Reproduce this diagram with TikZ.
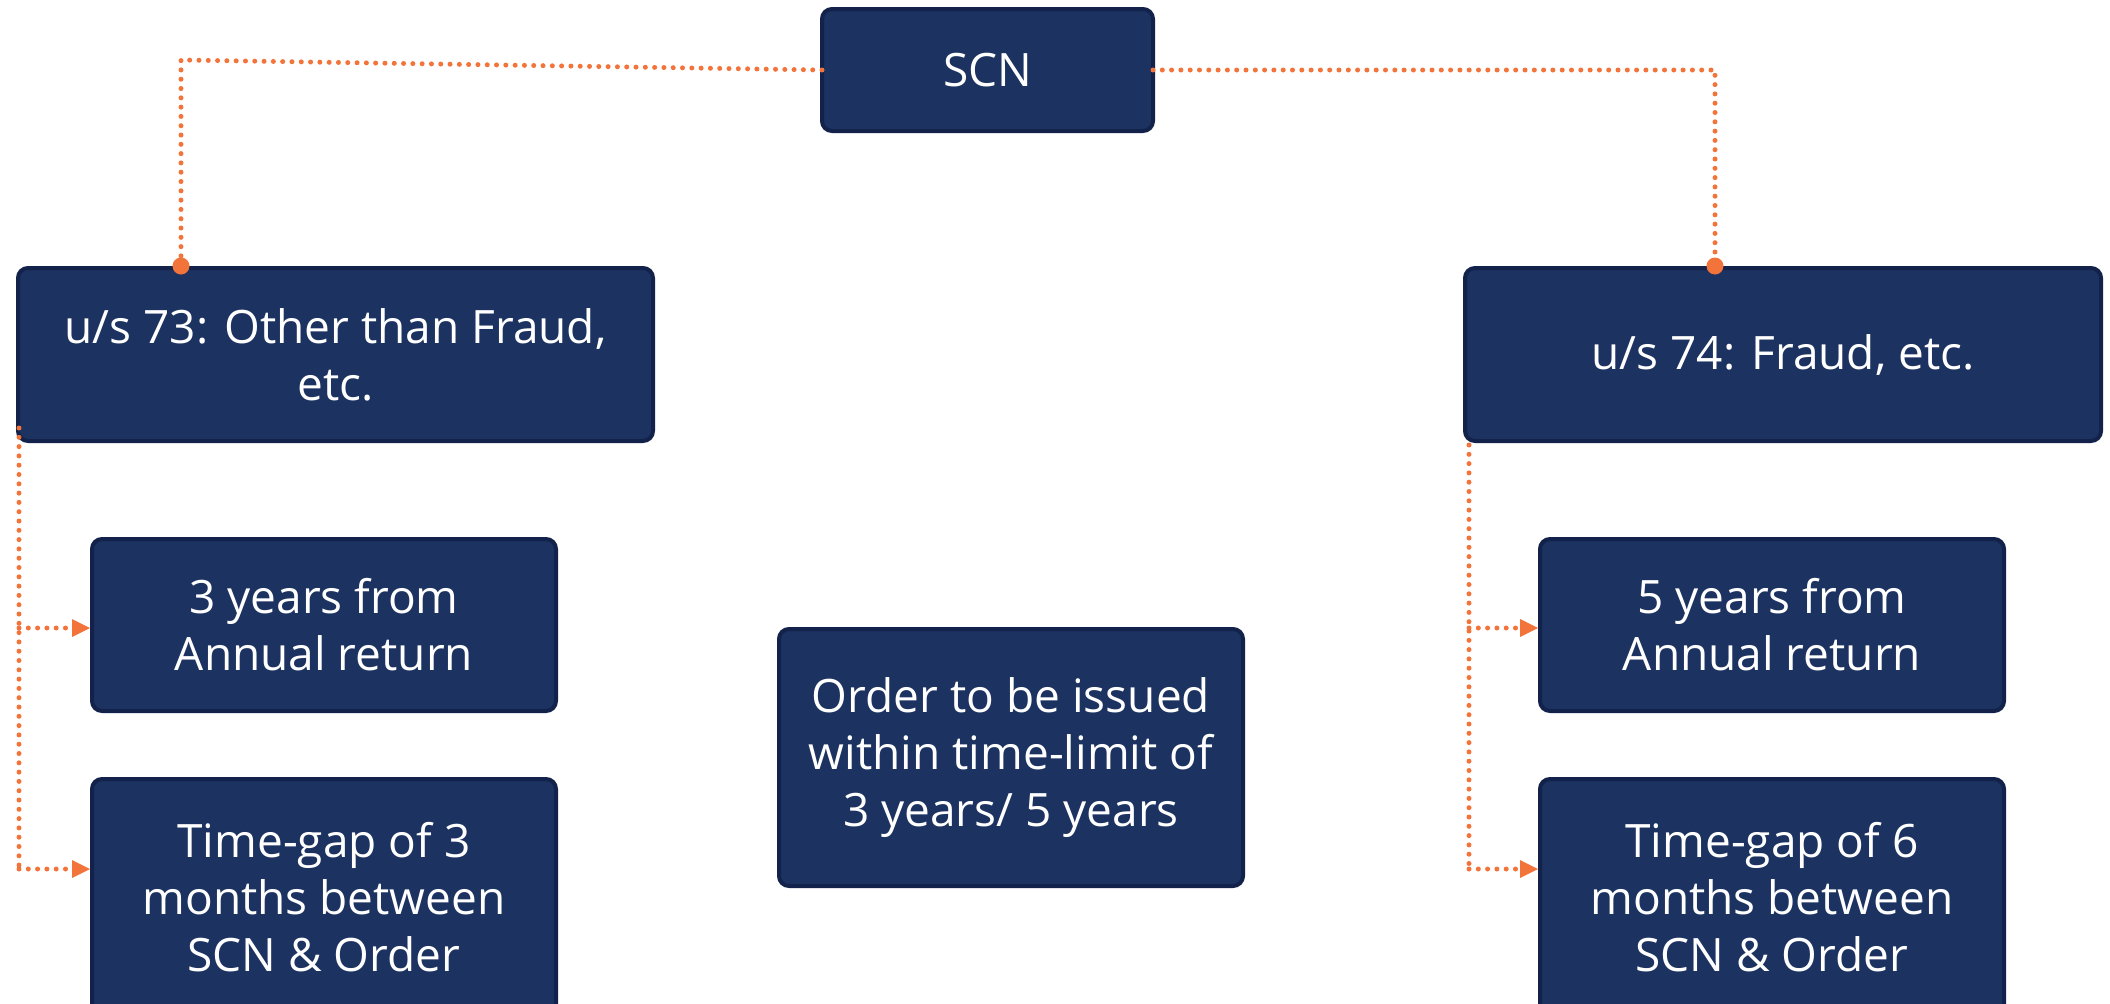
\documentclass[tikz,border=0pt]{standalone}
\usepackage{fontspec}
\setmainfont{Open Sans}
\usetikzlibrary{arrows.meta,calc}
\definecolor{boxfill}{HTML}{1C3260}
\definecolor{boxline}{HTML}{12224A}
\definecolor{accent}{HTML}{F3743A}
\begin{document}
\begin{tikzpicture}[x=1pt,y=-1pt,
  box/.style={rectangle, rounded corners=10pt, fill=boxfill, draw=boxline,
    line width=4pt, inner sep=0pt, outer sep=0pt, text=white, align=center,
    font=\fontsize{46}{57}\selectfont},
  dotline/.style={draw=accent, line width=5pt, line cap=round,
    dash pattern=on 0pt off 9.3pt},
  arrowtip/.style={-{Triangle[length=18pt,width=18pt,line width=0pt]}}
]
\useasboundingbox (0,0) rectangle (2110,1004);
\clip (0,0) rectangle (2110,1004);

% boxes
\node[box, minimum width=331pt, minimum height=122pt] (scn) at (987.5,70) {SCN};
\node[box, minimum width=635pt, minimum height=173pt] (l73) at (335.5,354.5)
  {u/s 73: Other than Fraud,\\etc.};
\node[box, minimum width=636pt, minimum height=173pt] (r74) at (1783,354.5)
  {u/s 74: Fraud, etc.};
\node[box, minimum width=464pt, minimum height=172pt] (la) at (324,625)
  {3 years from\\Annual return};
\node[box, minimum width=464pt, minimum height=236pt] (lb) at (324,897)
  {Time-gap of 3\\months between\\SCN \& Order};
\node[box, minimum width=464pt, minimum height=172pt] (ra) at (1772,625)
  {5 years from\\Annual return};
\node[box, minimum width=464pt, minimum height=236pt] (rb) at (1772,897)
  {Time-gap of 6\\months between\\SCN \& Order};
\node[box, minimum width=464pt, minimum height=257pt] (mid) at (1011,757.5)
  {Order to be issued\\within time-limit of\\3 years/ 5 years};

% top connectors
\coordinate (lcorner) at (181,60);
\coordinate (rcorner) at ($(scn.east)+(562,0)$);
\draw[dotline] (scn.west) -- (lcorner) -- (lcorner |- l73.north);
\fill[accent] ($(lcorner |- l73.north)+(0,-2)$) circle (8.5pt);
\draw[dotline] (scn.east) -- (rcorner) -- (rcorner |- r74.north);
\fill[accent] ($(rcorner |- r74.north)+(0,-2)$) circle (8.5pt);

% left branch
\coordinate (lstart) at ($(l73.south west)+(1,-13)$);
\coordinate (lbarr) at ($(lb.north west)+(-2,90)$);
\coordinate (laarr) at ($(la.west)+(-2,3)$);
\draw[dotline] (lstart) -- (lstart |- lbarr);
\draw[dotline, arrowtip] (lstart |- laarr) -- (laarr);
\draw[dotline, arrowtip] (lstart |- lbarr) -- (lbarr);

% right branch
\coordinate (rstart) at ($(r74.south west)+(4,4)$);
\coordinate (rbarr) at ($(rb.north west)+(-2,90)$);
\coordinate (raarr) at ($(ra.west)+(-2,3)$);
\draw[dotline] (rstart) -- (rstart |- rbarr);
\draw[dotline, arrowtip] (rstart |- raarr) -- (raarr);
\draw[dotline, arrowtip] (rstart |- rbarr) -- (rbarr);
\end{tikzpicture}
\end{document}
